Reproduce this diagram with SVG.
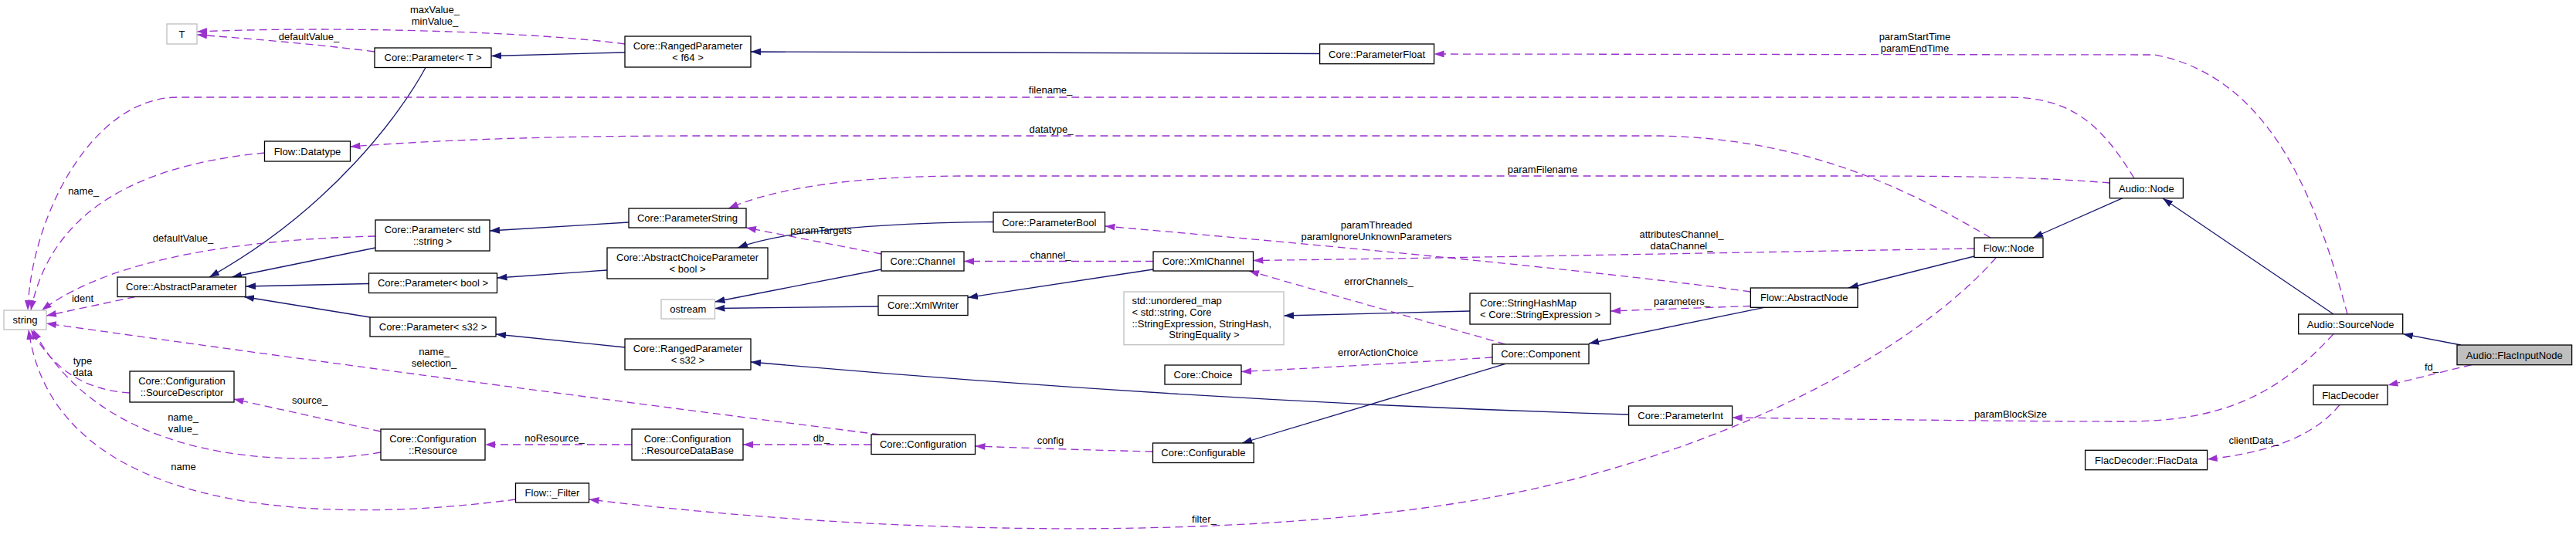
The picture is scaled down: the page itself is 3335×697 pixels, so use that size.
<svg xmlns="http://www.w3.org/2000/svg" width="3335" height="697" viewBox="0 0 3335 697">
<style>
text{font-family:"Liberation Sans",Arial,Helvetica,sans-serif;font-size:13px;fill:#000}
.n{fill:#fff;stroke:#000;stroke-width:1.3}
.g{fill:#fff;stroke:#bfbfbf;stroke-width:1.3}
.c{text-anchor:middle}
.inh{fill:none;stroke:#191970;stroke-width:1.3}
.use{fill:none;stroke:#9a32cd;stroke-width:1.3;stroke-dasharray:10,6}
</style>
<defs>
<marker id="an" markerUnits="userSpaceOnUse" markerWidth="14" markerHeight="10" refX="13" refY="4.5" orient="auto"><path d="M0,0 L13,4.5 L0,9 z" fill="#191970"/></marker>
<marker id="ap" markerUnits="userSpaceOnUse" markerWidth="14" markerHeight="10" refX="13" refY="4.5" orient="auto"><path d="M0,0 L13,4.5 L0,9 z" fill="#9a32cd"/></marker>
</defs>
<rect width="3335" height="697" fill="#fff"/>
<g id="connectors">
<g class="inh" marker-end="url(#an)">
<path d="M551,87.5 C520,145 430,270 271,359"/>
<path d="M486,321 L300,359"/>
<path d="M477.5,367.5 L318,371"/>
<path d="M479,411 L316,384.5"/>
<path d="M809,68 L636,72.5"/>
<path d="M1708.6,69.5 L972,67"/>
<path d="M814,288 L634,299"/>
<path d="M786,350 L643.5,360"/>
<path d="M1286,287.5 C1150,289 1020,297 955,321"/>
<path d="M1141,349 L925.5,391"/>
<path d="M1137,397 L925.5,399.5"/>
<path d="M1493,349 L1253,385.5"/>
<path d="M1903,403 L1662,409"/>
<path d="M1949,471.3 L1608,574"/>
<path d="M2108.6,537 C1700,525 1300,498 972,469"/>
<path d="M809,450 L642,433"/>
<path d="M2284,398.3 L2057,445"/>
<path d="M2556,332 L2393,373"/>
<path d="M2748,256.7 L2632,308"/>
<path d="M3021,407 L2800,257"/>
<path d="M3186,447 L3111,432.7"/>
</g>
<g class="use" marker-end="url(#ap)">
<path d="M809,57 C700,42 450,33 255,41"/>
<path d="M485,67 C400,56 320,50 255,45"/>
<path d="M2763,231 C2720,160 2680,126 2600,126 L230,126 C120,126 40,280 36,402"/>
<path d="M2577,308 C2470,245 2340,180 2150,176 L900,176 C700,176 560,182 453.5,190"/>
<path d="M342.5,198 C220,210 70,250 40,402"/>
<path d="M486,306 C330,310 150,330 54,402"/>
<path d="M175,384.5 L60,409"/>
<path d="M168,509 C110,505 70,480 40,427"/>
<path d="M493,586 C400,602 140,612 43,427"/>
<path d="M667.5,647 C420,680 70,670 37,427"/>
<path d="M1139,563 Q600,495 60,419"/>
<path d="M2731.4,237 C2650,230 2550,228 2400,228 L1250,228 C1100,228 1000,245 943,270"/>
<path d="M1141,329 L966,295"/>
<path d="M2266.4,378 C2100,355 1800,325 1430.5,293"/>
<path d="M2556,322 C2300,326 1900,334 1622.5,337.5"/>
<path d="M1949,446 L1617,351"/>
<path d="M1493,338.5 L1248,338.5"/>
<path d="M2266.4,396.5 L2085,403"/>
<path d="M1932,463 C1820,470 1700,477 1607,481.5"/>
<path d="M1492.5,585 C1400,583 1320,580 1262.5,578"/>
<path d="M1128,576 L962,576"/>
<path d="M818,576 L628,576"/>
<path d="M493,559 L302.5,517"/>
<path d="M2584,334 C2500,430 2300,560 2000,630 C1700,700 1200,700 762.5,647"/>
<path d="M3039,407 C3000,260 2940,100 2790,71 L1856.6,70"/>
<path d="M3021,432.7 C2950,510 2880,546 2750,546 C2600,546 2400,543 2242.6,541"/>
<path d="M3200,472.7 C3160,482 3130,490 3091.4,499"/>
<path d="M3029,524.5 C3000,560 2950,585 2857.5,595"/>
</g>
<g class="c">
<text x="563" y="16.5">maxValue_</text><text x="563" y="31.5">minValue_</text>
<text x="400" y="52">defaultValue_</text>
<text x="108" y="252">name_</text>
<text x="237" y="312.5">defaultValue_</text>
<text x="107" y="390.5">ident</text>
<text x="107" y="472">type</text><text x="107" y="486.5">data</text>
<text x="401" y="523">source_</text>
<text x="237" y="544.5">name_</text><text x="237" y="559.5">value_</text>
<text x="237.5" y="608.5">name</text>
<text x="562" y="460">name_</text><text x="562" y="475">selection_</text>
<text x="1063" y="302.5">paramTargets</text>
<text x="718" y="572">noResource_</text>
<text x="1063.5" y="572">db_</text>
<text x="1360" y="121">filename_</text>
<text x="1361" y="172">datatype_</text>
<text x="1360" y="335">channel_</text>
<text x="1360" y="574.5">config</text>
<text x="1559" y="676.5">filter_</text>
<text x="1997" y="223.5">paramFilename</text>
<text x="1782" y="295.5">paramThreaded</text><text x="1782" y="310.5">paramIgnoreUnknownParameters</text>
<text x="2177" y="307.5">attributesChannel_</text><text x="2177" y="322.5">dataChannel_</text>
<text x="1785" y="368.5">errorChannels_</text>
<text x="2177.5" y="394.5">parameters_</text>
<text x="1784" y="460.5">errorActionChoice</text>
<text x="2479" y="52">paramStartTime</text><text x="2479" y="66.5">paramEndTime</text>
<text x="2603" y="540.5">paramBlockSize</text>
<text x="3148" y="479.5">fd_</text>
<text x="2918" y="574.5">clientData_</text>
</g>
</g>
<g id="n_T"><rect class="g" x="216" y="31" width="39" height="26"/><text class="c" x="235.5" y="48.5">T</text></g>
<g id="n_ParamT"><rect class="n" x="485" y="62" width="151" height="25.5"/><text class="c" x="560.5" y="79">Core::Parameter&lt; T &gt;</text></g>
<g id="n_Datatype"><rect class="n" x="342.5" y="183" width="111" height="26"/><text class="c" x="398" y="200.5">Flow::Datatype</text></g>
<g id="n_ParamStdString"><rect class="n" x="486" y="285" width="148" height="40"/><text class="c" x="560" y="302">Core::Parameter&lt; std</text><text class="c" x="560" y="317">::string &gt;</text></g>
<g id="n_AbstractParameter"><rect class="n" x="152" y="359" width="166" height="25.5"/><text class="c" x="235" y="376">Core::AbstractParameter</text></g>
<g id="n_string"><rect class="g" x="5" y="402" width="55" height="25"/><text class="c" x="32.5" y="419">string</text></g>
<g id="n_SourceDescriptor"><rect class="n" x="168" y="481" width="135" height="40"/><text class="c" x="235.5" y="498">Core::Configuration</text><text class="c" x="235.5" y="513">::SourceDescriptor</text></g>
<g id="n_Resource"><rect class="n" x="493" y="556" width="135" height="40"/><text class="c" x="560.5" y="573">Core::Configuration</text><text class="c" x="560.5" y="588">::Resource</text></g>
<g id="n_RangedF64"><rect class="n" x="809" y="47" width="163" height="40"/><text class="c" x="890.5" y="64">Core::RangedParameter</text><text class="c" x="890.5" y="79">&lt; f64 &gt;</text></g>
<g id="n_ParameterString"><rect class="n" x="814" y="270" width="152" height="25"/><text class="c" x="890" y="287">Core::ParameterString</text></g>
<g id="n_AbstractChoice"><rect class="n" x="786" y="321" width="208" height="40"/><text class="c" x="890" y="338">Core::AbstractChoiceParameter</text><text class="c" x="890" y="353">&lt; bool &gt;</text></g>
<g id="n_ParamBool"><rect class="n" x="477.5" y="354" width="166" height="25.5"/><text class="c" x="560.5" y="371">Core::Parameter&lt; bool &gt;</text></g>
<g id="n_ParamS32"><rect class="n" x="479" y="411" width="163" height="25"/><text class="c" x="560.5" y="428">Core::Parameter&lt; s32 &gt;</text></g>
<g id="n_ostream"><rect class="g" x="856" y="388" width="69.5" height="25"/><text class="c" x="890.75" y="405">ostream</text></g>
<g id="n_RangedS32"><rect class="n" x="809" y="439" width="163" height="40"/><text class="c" x="890.5" y="456">Core::RangedParameter</text><text class="c" x="890.5" y="471">&lt; s32 &gt;</text></g>
<g id="n_ResourceDataBase"><rect class="n" x="818" y="556" width="144" height="40"/><text class="c" x="890" y="573">Core::Configuration</text><text class="c" x="890" y="588">::ResourceDataBase</text></g>
<g id="n_Filter"><rect class="n" x="667.5" y="626" width="95" height="25"/><text class="c" x="715" y="643">Flow::_Filter</text></g>
<g id="n_ParameterBool"><rect class="n" x="1286" y="275" width="144.5" height="25.7"/><text class="c" x="1358.25" y="292.5">Core::ParameterBool</text></g>
<g id="n_Channel"><rect class="n" x="1141" y="326" width="107" height="25"/><text class="c" x="1194.5" y="343">Core::Channel</text></g>
<g id="n_XmlChannel"><rect class="n" x="1493" y="326" width="129.5" height="25"/><text class="c" x="1557.75" y="343">Core::XmlChannel</text></g>
<g id="n_XmlWriter"><rect class="n" x="1137" y="383" width="116" height="25.5"/><text class="c" x="1195" y="400">Core::XmlWriter</text></g>
<g id="n_unordered_map"><rect class="g" x="1455" y="378" width="207" height="68.7"/><text x="1465.5" y="393.5">std::unordered_map</text><text x="1465.5" y="408.5">&lt; std::string, Core</text><text x="1465.5" y="423.5">::StringExpression, StringHash,</text><text class="c" x="1559" y="438">StringEquality &gt;</text></g>
<g id="n_Choice"><rect class="n" x="1508" y="473" width="99" height="25"/><text class="c" x="1557.5" y="490">Core::Choice</text></g>
<g id="n_Configuration"><rect class="n" x="1128" y="563" width="134.5" height="25.5"/><text class="c" x="1195.25" y="580">Core::Configuration</text></g>
<g id="n_Configurable"><rect class="n" x="1492.5" y="574" width="130.7" height="25.5"/><text class="c" x="1557.85" y="591">Core::Configurable</text></g>
<g id="n_ParameterFloat"><rect class="n" x="1708.6" y="57" width="148" height="25.7"/><text class="c" x="1782.6" y="74.5">Core::ParameterFloat</text></g>
<g id="n_StringHashMap"><rect class="n" x="1903" y="380" width="182" height="40"/><text x="1916" y="397">Core::StringHashMap</text><text x="1916" y="412">&lt; Core::StringExpression &gt;</text></g>
<g id="n_Component"><rect class="n" x="1932" y="446" width="125" height="25.3"/><text class="c" x="1994.5" y="463">Core::Component</text></g>
<g id="n_ParameterInt"><rect class="n" x="2108.6" y="526" width="134" height="25"/><text class="c" x="2175.6" y="543">Core::ParameterInt</text></g>
<g id="n_AudioNode"><rect class="n" x="2731.4" y="231" width="95" height="25.7"/><text class="c" x="2778.9" y="248.5">Audio::Node</text></g>
<g id="n_FlowNode"><rect class="n" x="2556" y="308" width="89" height="25.5"/><text class="c" x="2600.5" y="325.5">Flow::Node</text></g>
<g id="n_AbstractNode"><rect class="n" x="2266.4" y="373" width="138.6" height="25.3"/><text class="c" x="2335.7" y="390">Flow::AbstractNode</text></g>
<g id="n_FlacData"><rect class="n" x="2699.6" y="583.3" width="158" height="25.4"/><text class="c" x="2778.6" y="600.5">FlacDecoder::FlacData</text></g>
<g id="n_SourceNode"><rect class="n" x="2975.7" y="407" width="135" height="25.7"/><text class="c" x="3043.2" y="424.5">Audio::SourceNode</text></g>
<g id="n_FlacInputNode"><rect x="3181" y="447" width="148.6" height="25.7" fill="#bfbfbf" stroke="#000" stroke-width="1.3"/><text class="c" x="3255.3" y="464.5">Audio::FlacInputNode</text></g>
<g id="n_FlacDecoder"><rect class="n" x="2995" y="499" width="96" height="25.5"/><text class="c" x="3043" y="516.5">FlacDecoder</text></g>
</svg>
